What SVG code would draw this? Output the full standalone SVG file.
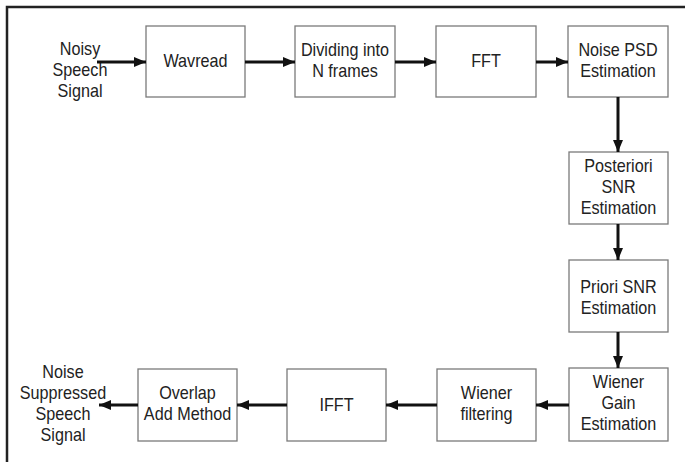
<svg xmlns="http://www.w3.org/2000/svg" width="685" height="462" viewBox="0 0 685 462">
<defs>
<marker id="ah" markerWidth="12" markerHeight="10" refX="12" refY="5" orient="auto" markerUnits="userSpaceOnUse">
<path d="M0,0 L12,5 L0,10 Z" fill="#111"/>
</marker>
</defs>
<style>
.box{fill:#fff;stroke:#7a7a7a;stroke-width:1.3}
.t{font-family:"Liberation Sans",Arial,sans-serif;font-size:16.2px;fill:#222;text-anchor:middle}
.c{stroke:#111;stroke-width:3;fill:none;marker-end:url(#ah)}
.frame{stroke:#222;stroke-width:2.5;fill:none}
</style>
<rect width="685" height="462" fill="#fff"/>
<path class="frame" d="M7,462 V7 H685"/>
<g id="in"><text class="t" transform="matrix(1,0,0,1.12,80,55)">Noisy</text><text class="t" transform="matrix(1,0,0,1.12,80,76)">Speech</text><text class="t" transform="matrix(1,0,0,1.12,80,97)">Signal</text></g>
<g id="wavread"><rect class="box" x="146" y="26" width="99" height="71"/><text class="t" transform="matrix(1,0,0,1.12,195.5,67)">Wavread</text></g>
<g id="dividing"><rect class="box" x="295" y="26" width="100" height="71"/><text class="t" transform="matrix(1,0,0,1.12,345,56)">Dividing into</text><text class="t" transform="matrix(1,0,0,1.12,345,77)">N frames</text></g>
<g id="fft"><rect class="box" x="436" y="26" width="100" height="71"/><text class="t" transform="matrix(1,0,0,1.12,486,67)">FFT</text></g>
<g id="psd"><rect class="box" x="568" y="26" width="100" height="71"/><text class="t" transform="matrix(1,0,0,1.12,618,56)">Noise PSD</text><text class="t" transform="matrix(1,0,0,1.12,618,77)">Estimation</text></g>
<g id="post"><rect class="box" x="569" y="152" width="99" height="72"/><text class="t" transform="matrix(1,0,0,1.12,618.5,172)">Posteriori</text><text class="t" transform="matrix(1,0,0,1.12,618.5,193)">SNR</text><text class="t" transform="matrix(1,0,0,1.12,618.5,214)">Estimation</text></g>
<g id="priori"><rect class="box" x="569" y="260" width="99" height="72"/><text class="t" transform="matrix(1,0,0,1.12,618.5,293)">Priori SNR</text><text class="t" transform="matrix(1,0,0,1.12,618.5,314)">Estimation</text></g>
<g id="gain"><rect class="box" x="569" y="368" width="99" height="73"/><text class="t" transform="matrix(1,0,0,1.12,618.5,388)">Wiener</text><text class="t" transform="matrix(1,0,0,1.12,618.5,409)">Gain</text><text class="t" transform="matrix(1,0,0,1.12,618.5,430)">Estimation</text></g>
<g id="wf"><rect class="box" x="437" y="369" width="99" height="72"/><text class="t" transform="matrix(1,0,0,1.12,486.5,399)">Wiener</text><text class="t" transform="matrix(1,0,0,1.12,486.5,420)">filtering</text></g>
<g id="ifft"><rect class="box" x="287" y="369" width="99" height="72"/><text class="t" transform="matrix(1,0,0,1.12,336.5,411)">IFFT</text></g>
<g id="ola"><rect class="box" x="138" y="369" width="99" height="72"/><text class="t" transform="matrix(1,0,0,1.12,187.5,399)">Overlap</text><text class="t" transform="matrix(1,0,0,1.12,187.5,420)">Add Method</text></g>
<g id="out"><text class="t" transform="matrix(1,0,0,1.12,63,378)">Noise</text><text class="t" transform="matrix(1,0,0,1.12,63,399)">Suppressed</text><text class="t" transform="matrix(1,0,0,1.12,63,420)">Speech</text><text class="t" transform="matrix(1,0,0,1.12,63,441)">Signal</text></g>
<g id="connectors">
<line class="c" x1="97" y1="62" x2="146" y2="62"/>
<line class="c" x1="245" y1="62" x2="295" y2="62"/>
<line class="c" x1="395" y1="62" x2="436" y2="62"/>
<line class="c" x1="536" y1="62" x2="568" y2="62"/>
<line class="c" x1="618" y1="97" x2="618" y2="152"/>
<line class="c" x1="618" y1="224" x2="618" y2="260"/>
<line class="c" x1="618" y1="332" x2="618" y2="368"/>
<line class="c" x1="569" y1="405" x2="536" y2="405"/>
<line class="c" x1="437" y1="405" x2="386" y2="405"/>
<line class="c" x1="287" y1="405" x2="237" y2="405"/>
<line class="c" x1="138" y1="405" x2="99" y2="405"/>
</g>
</svg>
